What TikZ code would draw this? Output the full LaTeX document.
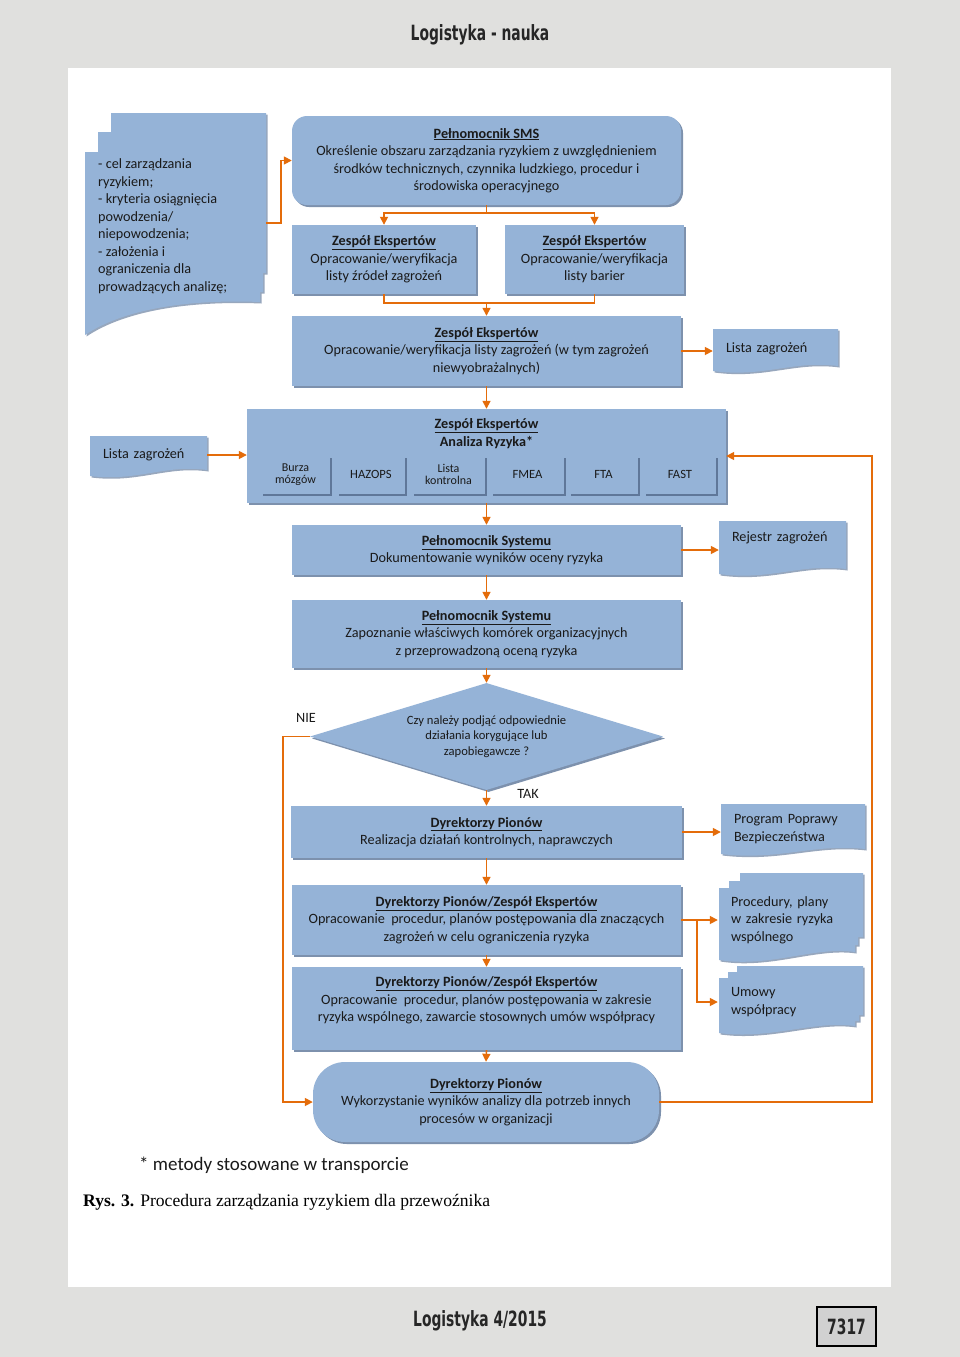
\documentclass[tikz,border=0pt]{standalone}
\usepackage{fontspec}
\setmainfont{Carlito}
\newfontfamily\capfont{Liberation Serif}
\newfontfamily\headfont[FakeStretch=0.66]{DejaVu Sans}
\usetikzlibrary{shapes.geometric,shadows,arrows.meta}
\definecolor{pagegray}{HTML}{E0E0DE}
\definecolor{boxblue}{HTML}{95B3D7}
\definecolor{boxshadow}{HTML}{7D91AD}
\definecolor{arrorange}{HTML}{E46C0A}
\definecolor{txtc}{HTML}{1A1A1A}
\definecolor{celline}{HTML}{5F7799}
\newcommand{\boxtitle}[1]{\underline{\textbf{#1}}}
\tikzset{
 base/.style={text=txtc, font=\fontsize{14.2}{17.5}\selectfont, align=center, inner sep=0pt},
 procbox/.style={base, fill=boxblue, drop shadow={shadow xshift=2pt, shadow yshift=-2pt, fill=boxshadow, opacity=1}},
 roundbox/.style={procbox, rounded corners=15pt},
 cellbox/.style={base, fill=boxblue, font=\fontsize{12.6}{13}\selectfont, minimum height=38pt, drop shadow={shadow xshift=1.5pt, shadow yshift=-2pt, fill=celline, opacity=1}},
 docshape/.style={fill=boxblue, drop shadow={shadow xshift=1.5pt, shadow yshift=-1.5pt, fill=boxshadow, opacity=0.8}},
 doctext/.style={base, align=left, inner xsep=13pt},
 conn/.style={draw=arrorange, line width=1.6pt, -{Triangle[length=8pt,width=8pt]}},
 plain/.style={draw=arrorange, line width=1.6pt},
}
\begin{document}
\begin{tikzpicture}[x=1pt,y=-1pt]
\useasboundingbox (0,0) rectangle (960,1357);
\fill[pagegray] (0,0) rectangle (960,1357);
\fill[white] (68,68) rectangle (891,1287);

% header / footer
\node[font=\headfont\bfseries\fontsize{21}{24}\selectfont, text=black!85] (hdr) at (480,35) {Logistyka - nauka};
\node[font=\headfont\bfseries\fontsize{21}{24}\selectfont, text=black!85] (ftr) at (480,1321) {Logistyka 4/2015};
\node[draw=black, line width=1.2pt, fill=black!18, minimum width=59pt, minimum height=39pt, inner sep=0pt, font=\headfont\bfseries\fontsize{21}{24}\selectfont, text=black!85] (pg) at (846.5,1326.5) {7317};

% left multi-document
\path[docshape] (111,113) -- (266,113) -- (266,273) -- (263,273) -- (263,292) -- (260,292) -- (260,302)
  .. controls (185,299) and (122,310) .. (85,335) -- (85,152) -- (98,152) -- (98,132) -- (111,132) -- cycle;
\node[doctext, anchor=west, inner xsep=0pt] (goals) at (98,226) {- cel zarządzania\\ ryzykiem;\\ - kryteria osiągnięcia\\ powodzenia/\\ niepowodzenia;\\ - założenia i\\ ograniczenia dla\\ prowadzących analizę;};
\coordinate (goalsout) at (266,223);

% top rounded box
\node[roundbox, minimum width=389pt, minimum height=89pt] (sms) at (486.5,160.5)
 {\boxtitle{Pełnomocnik SMS}\\ Określenie obszaru zarządzania ryzykiem z uwzględnieniem\\ środków technicznych, czynnika ludzkiego, procedur i\\ środowiska operacyjnego};
\draw[conn] (goalsout) -- (281,223) |- (sms.west);

% row 2
\node[procbox, minimum width=184pt, minimum height=69pt] (zl) at (384,259.5)
 {\boxtitle{Zespół Ekspertów}\\ Opracowanie/weryfikacja\\ listy źródeł zagrożeń};
\node[procbox, minimum width=179pt, minimum height=69pt] (zr) at (594.5,259.5)
 {\boxtitle{Zespół Ekspertów}\\ Opracowanie/weryfikacja\\ listy barier};
\coordinate (smsj) at (486.5,213);
\draw[plain] (sms.south) -- (smsj);
\draw[conn] (smsj) -| (zl.north);
\draw[conn] (smsj) -| (zr.north);

% box 3
\node[procbox, minimum width=389pt, minimum height=70pt] (z3) at (486.5,351)
 {\boxtitle{Zespół Ekspertów}\\ Opracowanie/weryfikacja listy zagrożeń (w tym zagrożeń\\ niewyobrażalnych)};
\coordinate (rowj) at (486.5,303);
\draw[plain] (zl.south) -- (384,303) -| (zr.south);
\draw[conn] (rowj) -- (z3.north);

% Lista zagrożeń (right)
\path[docshape] (713,329) -- (838,329) -- (838,366) .. controls (794,360) and (763,378) .. (713,371) -- cycle;
\node[doctext, text width=99pt] (lzR) at (775.5,349) {Lista zagrożeń};
\draw[conn] (z3.east) -- (z3.east -| lzR.west);

% Analysis box
\node[procbox, minimum width=479pt, minimum height=94pt] (an) at (486.5,456) {};
\node[base] (antitle) at (486.5,433.5) {\boxtitle{Zespół Ekspertów}\\ \textbf{Analiza Ryzyka*}};
\node[cellbox, minimum width=69pt, font=\fontsize{12}{12.5}\selectfont] (c1) at (295.5,474.5) {Burza\\ mózgów};
\node[cellbox, minimum width=68pt] (c2) at (371,474.5) {HAZOPS};
\node[cellbox, minimum width=73pt, font=\fontsize{12}{12.5}\selectfont] (c3) at (448.5,474.5) {Lista\\ kontrolna};
\node[cellbox, minimum width=73pt] (c4) at (527.5,474.5) {FMEA};
\node[cellbox, minimum width=69pt] (c5) at (603.5,474.5) {FTA};
\node[cellbox, minimum width=72pt] (c6) at (680,474.5) {FAST};
\draw[conn] (z3.south) -- (an.north);

% Lista zagrożeń (left)
\path[docshape] (90,436) -- (207,436) -- (207,470) .. controls (166,464) and (137,482) .. (90,476) -- cycle;
\node[doctext, text width=91pt] (lzL) at (148.5,455) {Lista zagrożeń};
\draw[conn] (lzL.east) -- (lzL.east -| an.west);

% box 5
\node[procbox, minimum width=389pt, minimum height=50pt] (z5) at (486.5,550)
 {\boxtitle{Pełnomocnik Systemu}\\ Dokumentowanie wyników oceny ryzyka};
\draw[conn] (an.south) -- (z5.north);
\path[docshape] (719,521) -- (846,521) -- (846,569) .. controls (802,563) and (770,581) .. (719,574) -- cycle;
\node[doctext, text width=101pt] (rej) at (782.5,538) {Rejestr zagrożeń};
\draw[conn] (z5.east) -- (z5.east -| rej.west);

% box 6
\node[procbox, minimum width=389pt, minimum height=68pt] (z6) at (486.5,634)
 {\boxtitle{Pełnomocnik Systemu}\\ Zapoznanie właściwych komórek organizacyjnych\\ z przeprowadzoną oceną ryzyka};
\draw[conn] (z5.south) -- (z6.north);

% decision
\node[diamond, base, shape aspect=3.3, fill=boxblue, drop shadow={shadow xshift=2pt, shadow yshift=-2pt, fill=boxshadow, opacity=1}, minimum width=353pt, minimum height=107pt, font=\fontsize{12.6}{15.5}\selectfont] (dec) at (486.5,736.5)
 {Czy należy podjąć odpowiednie\\ działania korygujące lub\\ zapobiegawcze ?};
\draw[conn] (z6.south) -- (dec.north);
\node[base] (nie) at (306,718) {NIE};
\node[base] (tak) at (528,794) {TAK};

% box 7
\node[procbox, minimum width=391pt, minimum height=52pt] (z7) at (486.5,832)
 {\boxtitle{Dyrektorzy Pionów}\\ Realizacja działań kontrolnych, naprawczych};
\draw[conn] (dec.south) -- (z7.north);
\path[docshape] (721,804) -- (865,804) -- (865,849) .. controls (815,843) and (779,861) .. (721,854) -- cycle;
\node[doctext, text width=118pt] (prog) at (793,829) {Program Poprawy\\ Bezpieczeństwa};
\draw[conn] (z7.east) -- (z7.east -| prog.west);

% box 8
\node[procbox, minimum width=389pt, minimum height=70pt] (z8) at (486.5,920)
 {\boxtitle{Dyrektorzy Pionów/Zespół Ekspertów}\\ Opracowanie\ \ procedur, planów postępowania dla znaczących\\ zagrożeń w celu ograniczenia ryzyka};
\draw[conn] (z7.south) -- (z8.north);

% Procedury multi-doc
\path[docshape] (740,873) -- (863,873) -- (863,937) -- (858,937) -- (858,945) -- (855,945) -- (855,952)
  .. controls (815,946) and (770,968) .. (719,960) -- (719,888) -- (729,888) -- (729,881) -- (740,881) -- cycle;
\node[doctext, text width=118pt] (proc) at (790,920) {Procedury, plany\\ w zakresie ryzyka\\ wspólnego};

% Umowy multi-doc
\path[docshape] (737,966) -- (863,966) -- (863,1015) -- (859,1015) -- (859,1021) -- (855,1021) -- (855,1026)
  .. controls (815,1020) and (770,1040) .. (719,1033) -- (719,978) -- (728,978) -- (728,972) -- (737,972) -- cycle;
\node[doctext, text width=118pt] (umo) at (790,1002) {Umowy\\ współpracy};

\coordinate (j8) at (697,920);
\draw[plain] (z8.east) -- (j8);
\draw[conn] (j8) -- (proc.west);
\draw[conn] (j8) |- (umo.west);

% box 9
\node[procbox, minimum width=389pt, minimum height=83pt, text depth=18pt] (z9) at (486.5,1008.5)
 {\boxtitle{Dyrektorzy Pionów/Zespół Ekspertów}\\ Opracowanie\ \ procedur, planów postępowania w zakresie\\ ryzyka wspólnego, zawarcie stosownych umów współpracy};
\draw[conn] (z8.south) -- (z9.north);

% final rounded box
\node[roundbox, rounded corners=32pt, minimum width=346pt, minimum height=80pt] (fin) at (486,1102)
 {\boxtitle{Dyrektorzy Pionów}\\ Wykorzystanie wyników analizy dla potrzeb innych\\ procesów w organizacji};
\draw[conn] (z9.south) -- (fin.north);

% NIE loop
\draw[conn] (dec.west) -- (283,736.5) |- (fin.west);
% feedback loop
\draw[conn] (fin.east) -- (872,1102) |- (an.east);

% footnote and caption
\node[base, anchor=west, font=\fontsize{19}{22}\selectfont] (foot) at (139,1165) {* metody stosowane w transporcie};
\node[base, anchor=west, font=\capfont\fontsize{17.6}{20}\selectfont, text=black] (cap) at (83,1202) {\textbf{Rys. 3.} Procedura zarządzania ryzykiem dla przewoźnika};
\end{tikzpicture}
\end{document}
